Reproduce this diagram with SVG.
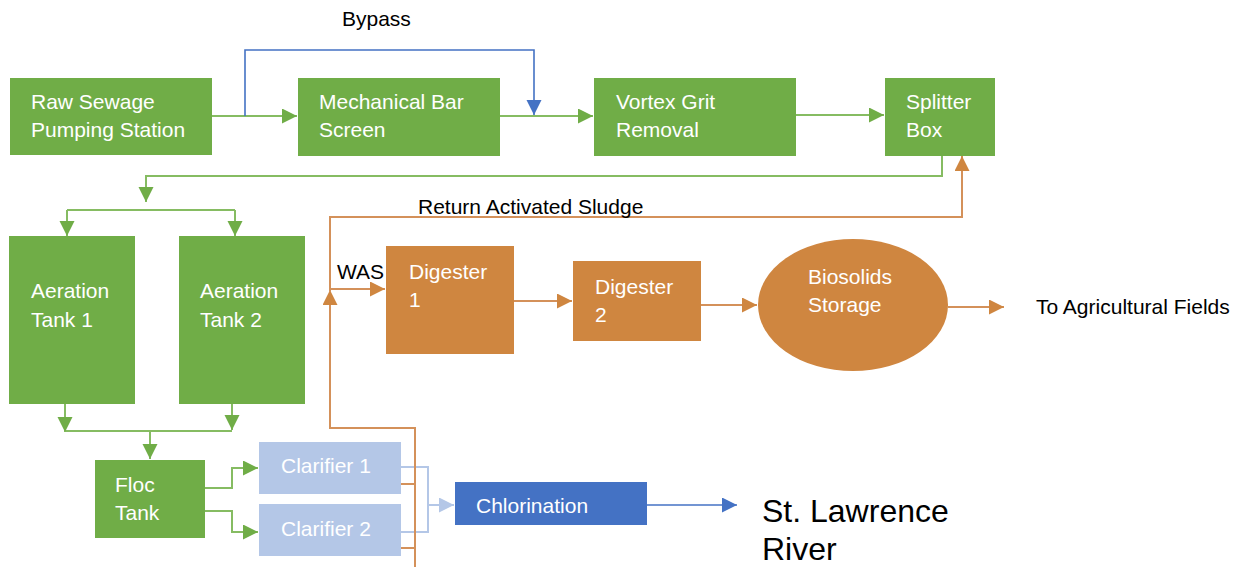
<svg xmlns="http://www.w3.org/2000/svg" width="1246" height="567" viewBox="0 0 1246 567">
<style>
  .g{fill:#70AD47}
  .o{fill:#CF8640}
  .lb{fill:#B4C7E7}
  .b{fill:#4472C4}
  .t{font-family:"Liberation Sans",Arial,sans-serif;font-size:21px;fill:#ffffff}
  .k{font-family:"Liberation Sans",Arial,sans-serif;font-size:21px;fill:#000000}
  .big{font-family:"Liberation Sans",Arial,sans-serif;font-size:32px;fill:#000000}
  .cg{fill:none;stroke:#86BC62;stroke-width:2}
  .co{fill:none;stroke:#D4915A;stroke-width:2}
  .cb{fill:none;stroke:#4472C4;stroke-width:1.6}
  .cl{fill:none;stroke:#B4C7E7;stroke-width:2}
</style>
<defs>
  <marker id="ag" markerUnits="userSpaceOnUse" markerWidth="16" markerHeight="16" refX="15" refY="7.5" orient="auto"><path d="M0,0 L15,7.5 L0,15 z" fill="#70AD47"/></marker>
  <marker id="ao" markerUnits="userSpaceOnUse" markerWidth="16" markerHeight="16" refX="15" refY="7.5" orient="auto"><path d="M0,0 L15,7.5 L0,15 z" fill="#CF8640"/></marker>
  <marker id="ab" markerUnits="userSpaceOnUse" markerWidth="16" markerHeight="16" refX="15" refY="7.5" orient="auto"><path d="M0,0 L15,7.5 L0,15 z" fill="#4472C4"/></marker>
  <marker id="al" markerUnits="userSpaceOnUse" markerWidth="16" markerHeight="16" refX="15" refY="7.5" orient="auto"><path d="M0,0 L15,7.5 L0,15 z" fill="#B4C7E7"/></marker>
</defs>
<rect width="1246" height="567" fill="#ffffff"/>
<g id="connectors">
  <path class="cg" d="M212,116 H297" marker-end="url(#ag)"/>
  <path class="cb" d="M245,116 V50 H534 V115" marker-end="url(#ab)"/>
  <path class="cg" d="M500,116 H593" marker-end="url(#ag)"/>
  <path class="cg" d="M796,115 H884" marker-end="url(#ag)"/>
  <path class="cg" d="M942,156 V176 H146 V202" marker-end="url(#ag)"/>
  <path class="cg" d="M67,210 H235"/>
  <path class="cg" d="M67,210 V236" marker-end="url(#ag)"/>
  <path class="cg" d="M235,210 V236" marker-end="url(#ag)"/>
  <path class="cg" d="M65,404 V432" marker-end="url(#ag)"/>
  <path class="cg" d="M232,404 V430" marker-end="url(#ag)"/>
  <path class="cg" d="M66,431 H232"/>
  <path class="cg" d="M150,431 V459" marker-end="url(#ag)"/>
  <path class="cg" d="M205,488 H232 V468 H258" marker-end="url(#ag)"/>
  <path class="cg" d="M205,511 H232 V532 H258" marker-end="url(#ag)"/>
  <path class="cl" d="M401,467 H428 V532 H401"/>
  <path class="cl" d="M428,505 H454" marker-end="url(#al)"/>
  <path class="cb" d="M647,505 H737" marker-end="url(#ab)"/>
  <path class="co" d="M415,567 V428 H330 V290" marker-end="url(#ao)"/>
  <path class="co" d="M330,292 V217 H962 V156" marker-end="url(#ao)"/>
  <path class="co" d="M330,289 H385" marker-end="url(#ao)"/>
  <path class="co" d="M401,484 H415"/>
  <path class="co" d="M401,548 H415"/>
  <path class="co" d="M514,301 H572" marker-end="url(#ao)"/>
  <path class="co" d="M701,305 H757" marker-end="url(#ao)"/>
  <path class="co" d="M948,307 H1004" marker-end="url(#ao)"/>
</g>
<g id="raw"><rect class="g" x="10" y="78" width="202" height="77"/><text class="t" x="31" y="109">Raw Sewage</text><text class="t" x="31" y="137">Pumping Station</text></g>
<g id="mech"><rect class="g" x="298" y="78" width="202" height="78"/><text class="t" x="319" y="109">Mechanical Bar</text><text class="t" x="319" y="137">Screen</text></g>
<g id="vortex"><rect class="g" x="594" y="78" width="202" height="78"/><text class="t" x="616" y="109">Vortex Grit</text><text class="t" x="616" y="137">Removal</text></g>
<g id="splitter"><rect class="g" x="885" y="78" width="110" height="78"/><text class="t" x="906" y="109">Splitter</text><text class="t" x="906" y="137">Box</text></g>
<g id="aer1"><rect class="g" x="9" y="236" width="126" height="168"/><text class="t" x="31" y="298">Aeration</text><text class="t" x="31" y="327">Tank 1</text></g>
<g id="aer2"><rect class="g" x="179" y="236" width="126" height="168"/><text class="t" x="200" y="298">Aeration</text><text class="t" x="200" y="327">Tank 2</text></g>
<g id="floc"><rect class="g" x="95" y="460" width="110" height="78"/><text class="t" x="115" y="492">Floc</text><text class="t" x="115" y="520">Tank</text></g>
<g id="clar1"><rect class="lb" x="259" y="442" width="142" height="52"/><text class="t" x="281" y="473">Clarifier 1</text></g>
<g id="clar2"><rect class="lb" x="259" y="504" width="142" height="52"/><text class="t" x="281" y="536">Clarifier 2</text></g>
<g id="chlor"><rect class="b" x="455" y="482" width="192" height="43"/><text class="t" x="476" y="513">Chlorination</text></g>
<g id="dig1"><rect class="o" x="386" y="246" width="128" height="108"/><text class="t" x="409" y="279">Digester</text><text class="t" x="409" y="307">1</text></g>
<g id="dig2"><rect class="o" x="573" y="261" width="128" height="80"/><text class="t" x="595" y="294">Digester</text><text class="t" x="595" y="322">2</text></g>
<g id="bio"><ellipse class="o" cx="853" cy="305" rx="95" ry="66"/><text class="t" x="808" y="284">Biosolids</text><text class="t" x="808" y="312">Storage</text></g>
<g id="labels">
  <text class="k" x="342" y="26">Bypass</text>
  <text class="k" x="418" y="214">Return Activated Sludge</text>
  <text class="k" x="337" y="279">WAS</text>
  <text class="k" x="1036" y="314">To Agricultural Fields</text>
  <text class="big" x="762" y="522">St. Lawrence</text>
  <text class="big" x="762" y="560">River</text>
</g>
</svg>
